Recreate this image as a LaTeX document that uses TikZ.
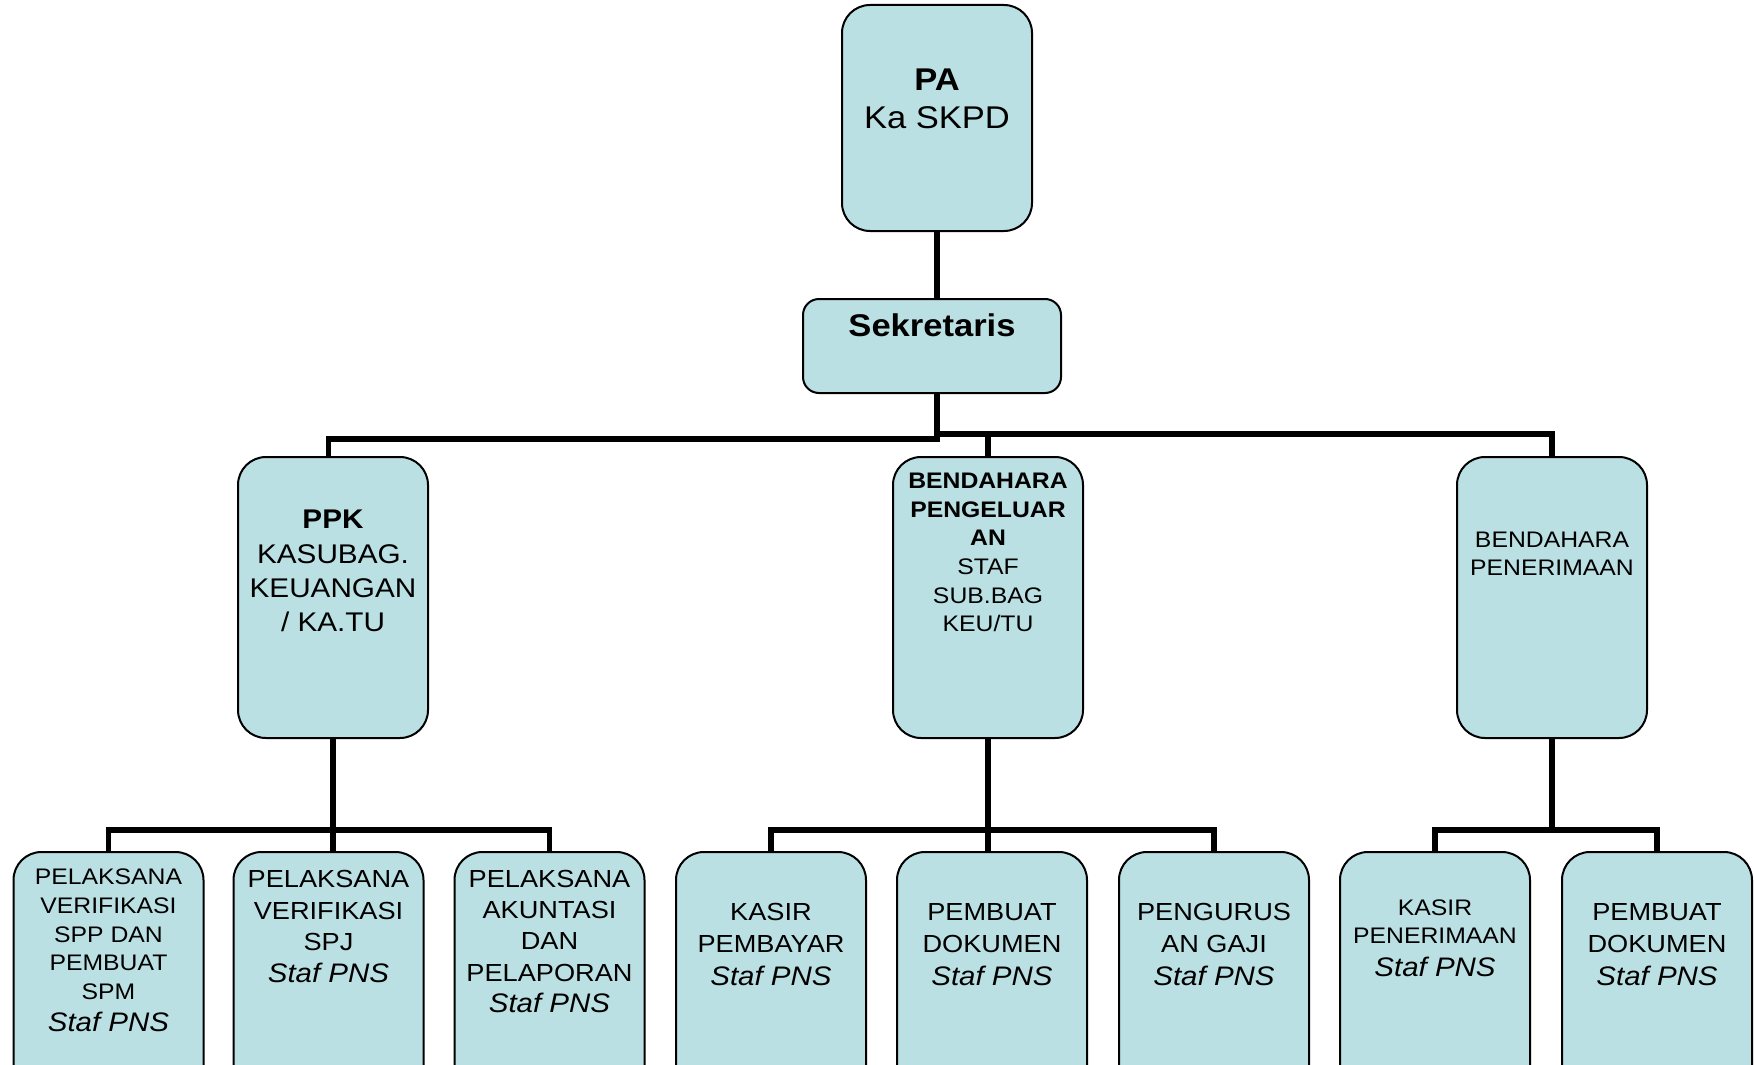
\documentclass[tikz,border=0pt]{standalone}
\usepackage{fontspec}
\setmainfont{Liberation Sans}[FakeStretch=1.1]
\definecolor{boxfill}{RGB}{187,224,227}
\begin{document}
\begin{tikzpicture}[x=1pt,y=-1pt,
  box/.style={draw=black, line width=2pt, fill=boxfill, rounded corners=28pt,
    inner sep=0pt, minimum width=190pt, minimum height=281pt},
  conn/.style={line width=5.3pt, line join=miter},
  txt/.style={anchor=north, inner sep=0pt, align=center, text=black},
]
\useasboundingbox (0,0) rectangle (1754,1065);
\clip (0,0) rectangle (1754,1065);

% boxes
\node[box, minimum height=226pt] (pa) at (937,118) {};
\node[box, minimum width=258pt, minimum height=94pt, rounded corners=16pt] (sek) at (932,346) {};
\node[box] (ppk) at (333,597.5) {};
\node[box] (bp) at (988,597.5) {};
\node[box] (br) at (1552,597.5) {};
\node[box] (c1) at (108.5,992.5) {};
\node[box] (c2) at (328.5,992.5) {};
\node[box] (c3) at (549.5,992.5) {};
\node[box] (c4) at (771,992.5) {};
\node[box] (c5) at (992,992.5) {};
\node[box] (c6) at (1214,992.5) {};
\node[box] (c7) at (1435,992.5) {};
\node[box] (c8) at (1657,992.5) {};

% bus coordinates
\coordinate (busL) at (937,439);
\coordinate (busR) at (937,434);
\coordinate (ppkin) at (328.5,439);
\coordinate (busB) at (0,830);

% connectors
\draw[conn] (pa.south) -- (pa.south |- sek.north);
\draw[conn] (pa.south |- sek.south) -- (busL) -- (ppkin) -- (ppkin |- ppk.north);
\draw[conn] (busR) -- (busR -| br.north) -- (br.north);
\draw[conn] (busR -| bp.north) -- (bp.north);

\draw[conn] (ppk.south) -- (ppk.south |- c2.north);
\draw[conn] (c1.north) -- (c1.north |- busB) -- (c3.north |- busB) -- (c3.north);
\draw[conn] (bp.south) -- (bp.south |- c5.north);
\draw[conn] (c4.north) -- (c4.north |- busB) -- (c6.north |- busB) -- (c6.north);
\draw[conn] (br.south) -- (br.south |- busB);
\draw[conn] (c7.north) -- (c7.north |- busB) -- (c8.north |- busB) -- (c8.north);

% texts
\node[txt, font=\fontsize{31.4}{38}\selectfont] (tpa) at (937,68.5) {\textbf{PA}\\Ka SKPD};
\node[txt, font=\bfseries\fontsize{31.4}{38}\selectfont] (tsek) at (932,313.5) {Sekretaris};
\node[txt, font=\fontsize{27}{34.3}\selectfont] (tppk) at (333,510) {\textbf{PPK}\\KASUBAG.\\KEUANGAN\\/ KA.TU};
\node[txt, font=\fontsize{22.5}{28.6}\selectfont] (tbp) at (988,473) {\textbf{BENDAHARA}\\\textbf{PENGELUAR}\\\textbf{AN}\\STAF\\SUB.BAG\\KEU/TU};
\node[txt, font=\fontsize{22.5}{28.4}\selectfont] (tbr) at (1552,531.7) {BENDAHARA\\PENERIMAAN};

\node[txt, font=\fontsize{22.5}{28.6}\selectfont] (tc1) at (108.5,869)
  {PELAKSANA\\VERIFIKASI\\SPP DAN\\PEMBUAT\\SPM\\[4pt]\fontsize{26.8}{32}\selectfont\itshape Staf PNS};
\node[txt, font=\fontsize{24.7}{31.7}\selectfont] (tc2) at (328.5,870)
  {PELAKSANA\\VERIFIKASI\\SPJ\\\fontsize{26.8}{32}\selectfont\itshape Staf PNS};
\node[txt, font=\fontsize{24.7}{31.2}\selectfont] (tc3) at (549.5,870)
  {PELAKSANA\\AKUNTASI\\DAN\\PELAPORAN\\\fontsize{26.8}{32}\selectfont\itshape Staf PNS};
\node[txt, font=\fontsize{24.7}{32.5}\selectfont] (tc4) at (771,903)
  {KASIR\\PEMBAYAR\\\fontsize{26.8}{32}\selectfont\itshape Staf PNS};
\node[txt, font=\fontsize{24.7}{32.5}\selectfont] (tc5) at (992,903)
  {PEMBUAT\\DOKUMEN\\\fontsize{26.8}{32}\selectfont\itshape Staf PNS};
\node[txt, font=\fontsize{24.7}{32.5}\selectfont] (tc6) at (1214,903)
  {PENGURUS\\AN GAJI\\\fontsize{26.8}{32}\selectfont\itshape Staf PNS};
\node[txt, font=\fontsize{22.5}{28}\selectfont] (tc7) at (1435,900)
  {KASIR\\PENERIMAAN\\[5pt]\fontsize{26.8}{32}\selectfont\itshape Staf PNS};
\node[txt, font=\fontsize{24.7}{32.5}\selectfont] (tc8) at (1657,903)
  {PEMBUAT\\DOKUMEN\\\fontsize{26.8}{32}\selectfont\itshape Staf PNS};
\end{tikzpicture}
\end{document}
